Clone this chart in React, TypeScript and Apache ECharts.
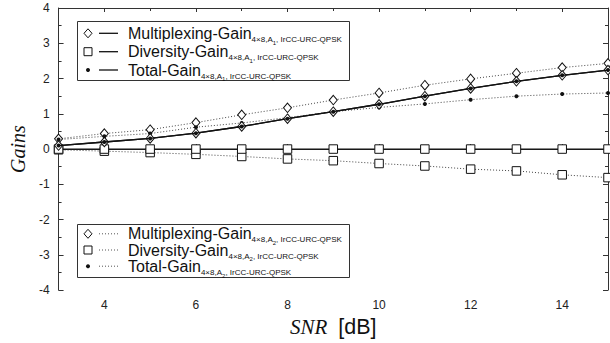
import React, { useEffect, useRef } from "react";
import * as echarts from "echarts";

// ---- data ----
const snr = [3, 4, 5, 6, 7, 8, 9, 10, 11, 12, 13, 14, 15];
const multiplexingA1 = [0.1, 0.2, 0.3, 0.45, 0.64, 0.86, 1.06, 1.27, 1.5, 1.72, 1.92, 2.09, 2.24];
const diversityA1 = [0, 0, 0, 0, 0, 0, 0, 0, 0, 0, 0, 0, 0];
const totalA1 = [0.1, 0.2, 0.3, 0.45, 0.64, 0.86, 1.06, 1.27, 1.5, 1.72, 1.92, 2.09, 2.24];
const multiplexingA2 = [0.29, 0.44, 0.55, 0.75, 0.97, 1.17, 1.39, 1.59, 1.81, 1.99, 2.15, 2.31, 2.43];
const diversityA2 = [-0.02, -0.06, -0.1, -0.15, -0.21, -0.28, -0.33, -0.41, -0.48, -0.57, -0.62, -0.73, -0.81];
const totalA2 = [0.27, 0.36, 0.44, 0.62, 0.74, 0.89, 1.06, 1.18, 1.28, 1.4, 1.5, 1.56, 1.59];

const xMajorTicks = [4, 6, 8, 10, 12, 14];
const xMinorTicks = [5, 7, 9, 11, 13];
const legendNames = ["Multiplexing-Gain", "Diversity-Gain", "Total-Gain"];
const legendSubA1 = ["4×8,A", "1", ", IrCC-URC-QPSK"];
const legendSubA2 = ["4×8,A", "2", ", IrCC-URC-QPSK"];

const SANS = "Liberation Sans, Arial, Helvetica, sans-serif";
const SERIF = "Liberation Serif, Times New Roman, serif";
const AXIS_COLOR = "#333";
const INK = "#111";

const pairs = (ys: number[]) => snr.map((x, i) => [x, ys[i]]);

function legendBlock(top: number, height: number, rows: number[], sub: string[], dotted: boolean) {
  const els: any[] = [];
  els.push({
    type: "rect",
    shape: { x: 77.5, y: top + 0.5, width: 272, height },
    style: { fill: "#fff", stroke: AXIS_COLOR, lineWidth: 1 },
    z: 100,
  });
  rows.forEach((ry, i) => {
    if (i === 0) {
      els.push({
        type: "polygon",
        shape: { points: [[88, ry - 4.5], [92, ry], [88, ry + 4.5], [84, ry]] },
        style: { fill: "#fff", stroke: INK, lineWidth: 1 },
        z: 101,
      });
    } else if (i === 1) {
      els.push({
        type: "rect",
        shape: { x: 84, y: ry - 4, width: 8, height: 8 },
        style: { fill: "#fff", stroke: INK, lineWidth: 1 },
        z: 101,
      });
    } else {
      els.push({ type: "circle", shape: { cx: 88, cy: ry, r: 2 }, style: { fill: INK }, z: 101 });
    }
    els.push({
      type: "line",
      shape: { x1: 99, y1: ry, x2: 118, y2: ry },
      style: dotted
        ? { stroke: "#555", lineWidth: 1, lineDash: [1, 2] }
        : { stroke: INK, lineWidth: 1.3 },
      z: 101,
    });
    els.push({
      type: "text",
      x: 128,
      y: ry - 8,
      z: 101,
      style: {
        text: `{m|${legendNames[i]}}{s|${sub[0]}}{ss|${sub[1]}}{s|${sub[2]}}`,
        fill: INK,
        align: "left",
        verticalAlign: "top",
        rich: {
          m: { fontSize: 16, fontFamily: SANS, fill: INK, verticalAlign: "top" },
          s: { fontSize: 8, fontFamily: SANS, fill: INK, verticalAlign: "bottom", padding: [10.2, 0, 2.3, 0] },
          ss: { fontSize: 6, fontFamily: SANS, fill: INK, verticalAlign: "bottom", padding: [14.4, 0, 0.1, 0] },
        },
      },
    });
  });
  return els;
}

export default function App() {
  const ref = useRef<HTMLDivElement>(null);
  useEffect(() => {
    document.body.style.margin = "0";
    const chart = echarts.init(ref.current!, undefined, { renderer: "svg" });
    const solid = { color: INK, width: 1.3, type: "solid" as const };
    const dot = { color: "#444", width: 1, type: [1, 2] as any };
    const emptyStyle = { color: "#fff", borderColor: INK, borderWidth: 1 };
    const baseAxisLine = { show: true, lineStyle: { color: AXIS_COLOR, width: 1 } };
    const xCommon = { type: "value" as const, min: 3, max: 15, splitLine: { show: false } };
    const yCommon = { type: "value" as const, min: -4, max: 4, interval: 1, splitLine: { show: false } };

    chart.setOption({
      animation: false,
      backgroundColor: "#fff",
      grid: { left: 53, right: 2, top: 8, bottom: 49, containLabel: false },
      xAxis: [
        {
          ...xCommon,
          position: "bottom",
          axisLine: baseAxisLine,
          axisTick: { show: true, inside: true, length: 5, customValues: xMajorTicks, lineStyle: { color: AXIS_COLOR } },
          axisLabel: { customValues: xMajorTicks, margin: 9, fontSize: 12, fontFamily: SANS, color: "#222" },
          name: "{i|SNR}{n|[dB]}",
          nameLocation: "middle",
          nameGap: 25,
          nameTextStyle: {
            rich: {
              i: { fontFamily: SERIF, fontStyle: "italic", fontSize: 21, color: INK },
              n: { fontFamily: SANS, fontSize: 21.5, color: INK, padding: [0, 0, 0, 11] },
            },
          },
        },
        {
          ...xCommon,
          position: "bottom",
          axisLine: { show: false },
          axisTick: { show: true, inside: true, length: 3, customValues: xMinorTicks, lineStyle: { color: AXIS_COLOR } },
          axisLabel: { show: false },
        },
        {
          ...xCommon,
          position: "top",
          axisLine: baseAxisLine,
          axisTick: { show: true, inside: true, length: 4, customValues: xMajorTicks, lineStyle: { color: AXIS_COLOR } },
          axisLabel: { show: false },
        },
        {
          ...xCommon,
          position: "top",
          axisLine: { show: false },
          axisTick: { show: true, inside: true, length: 3, customValues: xMinorTicks, lineStyle: { color: AXIS_COLOR } },
          axisLabel: { show: false },
        },
      ],
      yAxis: [
        {
          ...yCommon,
          position: "left",
          axisLine: baseAxisLine,
          axisTick: { show: true, inside: true, length: 5, lineStyle: { color: AXIS_COLOR } },
          minorTick: { show: true, splitNumber: 2, length: 3, lineStyle: { color: AXIS_COLOR } },
          axisLabel: { margin: 9, fontSize: 12, fontFamily: SANS, color: "#222" },
          name: "Gains",
          nameLocation: "middle",
          nameGap: 25,
          nameRotate: 90,
          nameTextStyle: { fontFamily: SERIF, fontStyle: "italic", fontSize: 20, color: INK },
        },
        {
          ...yCommon,
          position: "right",
          axisLine: baseAxisLine,
          axisTick: { show: true, inside: true, length: 5, lineStyle: { color: AXIS_COLOR } },
          minorTick: { show: true, splitNumber: 2, length: 3, lineStyle: { color: AXIS_COLOR } },
          axisLabel: { show: false },
        },
      ],
      series: [
        { type: "line", name: "divA2", data: pairs(diversityA2), lineStyle: dot, symbol: "rect", symbolSize: 8.5, itemStyle: emptyStyle, z: 2 },
        { type: "line", name: "mulA2", data: pairs(multiplexingA2), lineStyle: dot, symbol: "diamond", symbolSize: [8, 9.5], itemStyle: emptyStyle, z: 2 },
        { type: "line", name: "totA2", data: pairs(totalA2), lineStyle: dot, symbol: "circle", symbolSize: 4, itemStyle: { color: INK }, z: 3 },
        { type: "line", name: "divA1", data: pairs(diversityA1), lineStyle: solid, symbol: "rect", symbolSize: 8.5, itemStyle: emptyStyle, z: 4 },
        { type: "line", name: "mulA1", data: pairs(multiplexingA1), lineStyle: solid, symbol: "diamond", symbolSize: [8, 9.5], itemStyle: emptyStyle, z: 4 },
        { type: "line", name: "totA1", data: pairs(totalA1), lineStyle: solid, symbol: "circle", symbolSize: 4, itemStyle: { color: INK }, z: 5 },
      ],
      graphic: [
        ...legendBlock(21, 59, [33.3, 51.7, 70], legendSubA1, false),
        ...legendBlock(224, 53, [233.8, 250, 266.2], legendSubA2, true),
      ],
    });
    return () => chart.dispose();
  }, []);
  return <div ref={ref} style={{ position: "fixed", left: 0, top: 0, width: 610, height: 343 }} />;
}
